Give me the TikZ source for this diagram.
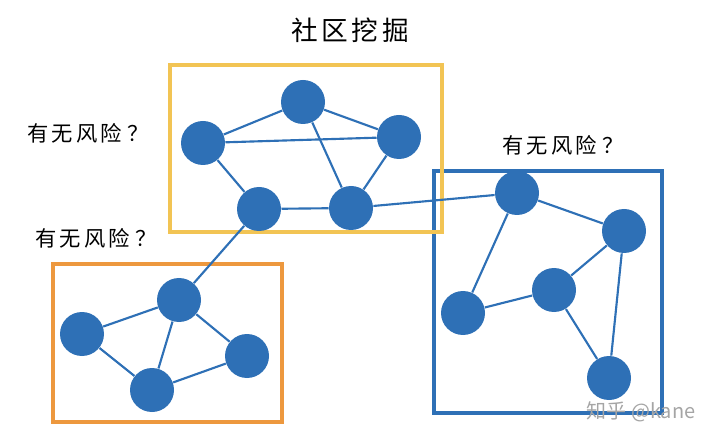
\documentclass[tikz,border=0pt]{standalone}
\usepackage{fontspec}
\newfontfamily\cjk{Noto Sans CJK SC}
\newfontfamily\cjkwide[LetterSpace=14]{Noto Sans CJK SC}
\tikzset{every picture/.style={line width=0.75pt}}
\tikzset{
	member/.style={circle, fill={rgb, 255:red, 46; green, 112; blue, 182 }, draw=none, minimum size=33pt, inner sep=0pt},
	link/.style={draw={rgb, 255:red, 46; green, 112; blue, 182 }, line width=1.6pt},
	question/.style={font=\cjkwide\fontsize{16}{20}\selectfont},
	community/.style={line width=2.3pt}}

\begin{document}
\begin{tikzpicture}[x=0.75pt,y=0.75pt,yscale=-1,xscale=1]
	\path[use as bounding box] (0,0) rectangle (720,441);

	%Shape: Rectangle [blue community]
	\draw [community, draw={rgb, 255:red, 46; green, 112; blue, 182 }] (434,171) rectangle (662,413) ;
	%Shape: Rectangle [yellow community]
	\draw [community, draw={rgb, 255:red, 242; green, 196; blue, 84 }] (170,65) rectangle (442,232) ;
	%Shape: Rectangle [orange community]
	\draw [community, draw={rgb, 255:red, 237; green, 152; blue, 62 }] (53,264) rectangle (282,422) ;

	%Shape: Circle [top community]
	\node [member] (topA) at (303,102) {};
	\node [member] (topB) at (203,143) {};
	\node [member] (topC) at (399,137) {};
	\node [member] (topD) at (259,209) {};
	\node [member] (topE) at (351,208) {};
	%Shape: Circle [left community]
	\node [member] (leftA) at (179,300) {};
	\node [member] (leftB) at (82,334) {};
	\node [member] (leftC) at (152,390) {};
	\node [member] (leftD) at (247,356) {};
	%Shape: Circle [right community]
	\node [member] (rightA) at (517,193) {};
	\node [member] (rightB) at (624,231) {};
	\node [member] (rightC) at (554,290) {};
	\node [member] (rightD) at (463,313) {};
	\node [member] (rightE) at (609,378) {};

	%Straight Lines
	\foreach \from/\to in {topA/topB, topA/topC, topB/topC, topA/topE, topB/topD, topC/topE, topD/topE,
		leftA/leftB, leftA/leftC, leftA/leftD, leftB/leftC, leftC/leftD,
		rightA/rightB, rightA/rightD, rightB/rightC, rightB/rightE, rightC/rightD, rightC/rightE,
		topD/leftA, topE/rightA}
		\draw [link] (\from) -- (\to) ;

	% Text Node
	\node [font=\cjkwide\fontsize{20}{24}\selectfont] (title) at (350,30) {社区挖掘};
	% Text Node
	\node [question] (askTop) at (88,133) {有无风险\hspace{0.25em}？};
	% Text Node
	\node [question] (askLeft) at (96,238) {有无风险\hspace{0.25em}？};
	% Text Node
	\node [question] (askRight) at (563,145) {有无风险\hspace{0.25em}？};
	% Text Node
	\node [font=\cjk\fontsize{15}{18}\selectfont, text={rgb, 255:red, 165; green, 165; blue, 165 }] (mark) at (641,412) {知乎 @kane};

\end{tikzpicture}
\end{document}
